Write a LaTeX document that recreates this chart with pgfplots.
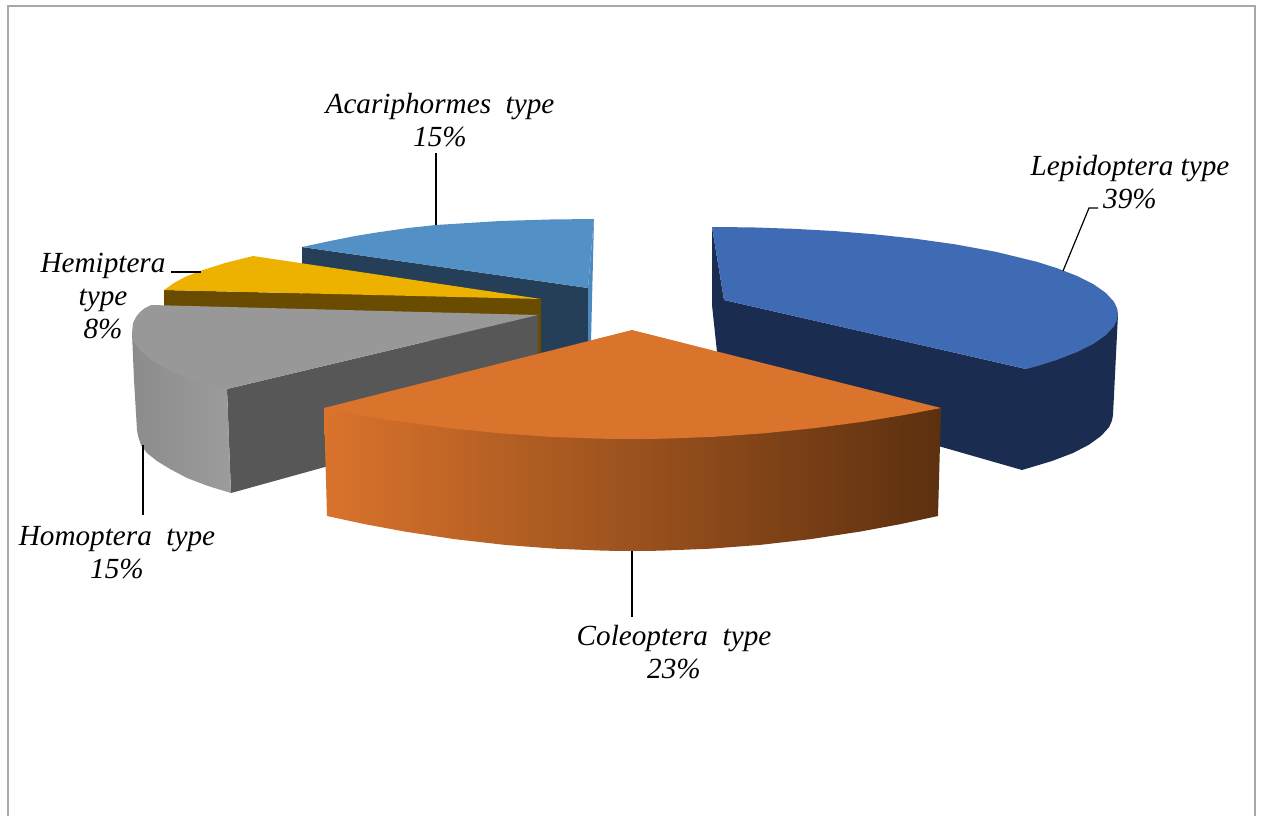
\documentclass[border=0pt]{standalone}
\usepackage{fontspec}
\setmainfont{Liberation Serif}
\usepackage{pgfplots}
\pgfplotsset{compat=1.18}

\definecolor{framegray}{HTML}{A8A8A8}
\definecolor{acaTop}{HTML}{5390C6}
\definecolor{acaEdge}{HTML}{4C89C1}
\definecolor{acaFace}{HTML}{243F57}
\definecolor{hemTop}{HTML}{EDB200}
\definecolor{hemFace}{HTML}{6A4C00}
\definecolor{homTop}{HTML}{989898}
\definecolor{homFace}{HTML}{575757}
\definecolor{lepTop}{HTML}{3F6AB4}
\definecolor{lepFace}{HTML}{1A2C50}
\definecolor{colTop}{HTML}{DA732C}
\definecolor{colMid}{HTML}{9E5420}
\definecolor{colDark}{HTML}{5C300F}

\tikzset{lab/.style={font=\fontsize{29.2}{33}\selectfont\itshape, align=center, inner sep=0pt}}

\begin{document}
\begin{tikzpicture}
\begin{axis}[
    scale only axis,
    width=1261pt, height=816pt,
    xmin=0, xmax=1261, ymin=0, ymax=816,
    y dir=reverse,
    hide axis,
    clip=true,
]
% page
\addplot[draw=none, fill=white] coordinates {(0,0) (1261,0) (1261,816) (0,816)} --cycle;
\addplot[framegray, line width=1.6pt] coordinates {(8,816) (8,6) (1255,6) (1255,816)};

% Acariphormes
\addplot[draw=none, fill=acaFace] coordinates {(302,247) (588,288) (588,342) (540,358) (302,300)} --cycle;
\addplot[draw=none, fill=acaEdge] coordinates {(594,219) (591,342) (588,342) (588,288)} --cycle;
\addplot[draw=none, fill=acaTop] coordinates {(302,247) (316,244) (330,241) (355,236) (380,232) (408,228) (436,225) (468,223) (500,221) (550,219.5) (594,219) (588,288)} --cycle;

% Hemiptera
\addplot[draw=none, fill=hemFace] coordinates {(164,290) (541,299) (541,354) (164,310)} --cycle;
\addplot[draw=none, fill=hemTop] coordinates {(164,290) (174,283) (185,277) (200,271) (225,263) (253,256) (541,299)} --cycle;

% Homoptera
\addplot[draw=none, fill=homFace] coordinates {(227,389) (538,315) (538,408) (231,493)} --cycle;
\addplot[draw=none, left color=homTop!92!black, right color=homTop!96!white] coordinates {(132,333) (134,380) (137,430) (138,436) (141,445) (147,453) (157,461) (170,469) (187,478) (208,486) (231,493) (227,389)} --cycle;
\addplot[draw=none, fill=homTop] coordinates {(151,305) (538,315) (227,389) (203,384) (180,375) (163,367) (150,359) (140,350) (134,342) (132,333) (133,323) (136,317) (140,312) (145,308)} --cycle;

% Lepidoptera
\addplot[draw=none, fill=lepFace] coordinates {(712,227) (724,300) (1026,369) (1118,314) (1113,415) (1112,420.5) (1109,427.3) (1101,436) (1089,444.7) (1073,453) (1052,461) (1032,467) (1022,470) (900,435) (717,352) (712,305)} --cycle;
\addplot[draw=none, fill=lepTop] coordinates {(712,227) (752.6,227.4) (793.2,228.8) (833.8,231) (874.4,234.3) (915,238.7) (955.6,244.4) (996.2,251.9) (1036.8,261.8) (1057,268.2) (1077.4,276.1) (1093.6,284.3) (1105.8,292.9) (1113.9,301.7) (1117.2,308.5) (1118,314) (1117,319.5) (1114,326.3) (1105.8,335.1) (1093.6,343.7) (1077.4,351.9) (1057,359.8) (1036.8,366.2) (1026,369) (724,300)} --cycle;

% Coleoptera
\addplot[draw=none, left color=colTop, middle color=colMid, right color=colDark] coordinates {(324,408) (941,408) (938,516) (900,524.2) (860,531.6) (810,539.2) (760,544.9) (710,548.7) (660,550.7) (632,551) (605,550.7) (555,548.7) (505,544.9) (455,539.2) (405,531.6) (365,524.2) (327,516)} --cycle;
\addplot[draw=none, fill=colTop] coordinates {(632,330) (941,408) (904,415) (864,421.6) (814,428.2) (764,433.3) (714,436.8) (664,438.7) (632,439) (600,438.7) (550,436.8) (500,433.3) (450,428.2) (400,421.6) (360,415) (324,408)} --cycle;

% leader lines
\addplot[black, line width=1.2pt] coordinates {(436,153) (436,225)};
\addplot[black, line width=1.2pt] coordinates {(1098,208) (1089,208) (1063,271)};
\addplot[black, line width=1.2pt] coordinates {(171,272) (201,272)};
\addplot[black, line width=1.2pt] coordinates {(143,445) (143,515)};
\addplot[black, line width=1.2pt] coordinates {(632,551) (632,617)};

% labels
\node[lab] at (axis cs:440,120) {Acariphormes\ \ type\\15\%};
\node[lab] at (axis cs:1130,182) {Lepidoptera type\\39\%};
\node[lab] at (axis cs:103,296) {Hemiptera\\type\\8\%};
\node[lab] at (axis cs:117,553) {Homoptera\ \ type\\15\%};
\node[lab] at (axis cs:674,652) {Coleoptera\ \ type\\23\%};
\end{axis}
\end{tikzpicture}
\end{document}
